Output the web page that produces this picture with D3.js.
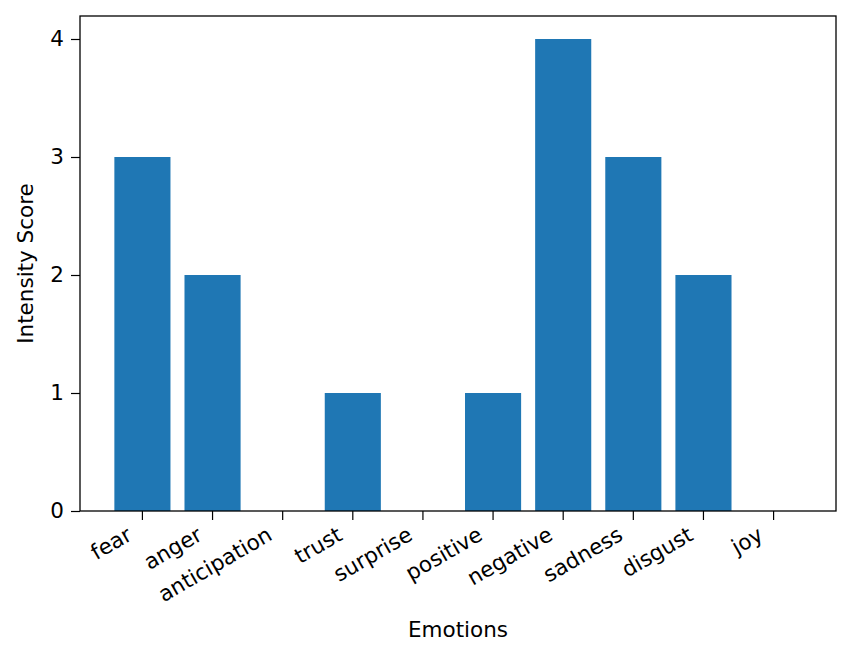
<!DOCTYPE html>
<html>
<head>
<meta charset="utf-8">
<script src="https://cdn.jsdelivr.net/npm/d3@7"></script>
<style>
  body { margin: 0; background: #fff; }
  text { font-family: "DejaVu Sans", sans-serif; fill: #000; }
</style>
</head>
<body>
<div id="chart"></div>
<script>
const width = 851,
    height = 660

const margin = { top: 16, right: 15, bottom: 149, left: 80 }

// data
const emotions = ["fear", "anger", "anticipation", "trust", "surprise",
    "positive", "negative", "sadness", "disgust", "joy"]
const scores = [3, 2, 0, 1, 0, 1, 4, 3, 2, 0]
const yTicks = [0, 1, 2, 3, 4]

const barColor = "#1f77b4"
const fontSize = 21.5

const svg = d3.select("#chart")
    .append("svg")
        .attr("width", width)
        .attr("height", height)

const x = d3.scaleBand()
    .domain(emotions)
    .range([margin.left, width - margin.right])
    .paddingInner(0.2)
    .paddingOuter(0.49)

const y = d3.scaleLinear()
    .domain([0, 4.2])
    .range([height - margin.bottom, height - margin.bottom - 4.2 * 118])

// bars
svg.selectAll("rect.bar")
    .data(emotions.map((e, i) => ({ e, v: scores[i] })))
    .enter()
    .append("rect")
        .attr("class", "bar")
        .attr("x", d => x(d.e))
        .attr("y", d => y(d.v))
        .attr("width", x.bandwidth())
        .attr("height", d => y(0) - y(d.v))
        .attr("fill", barColor)

// frame
svg.append("rect")
    .attr("x", margin.left)
    .attr("y", margin.top)
    .attr("width", width - margin.left - margin.right)
    .attr("height", height - margin.top - margin.bottom)
    .attr("fill", "none")
    .attr("stroke", "#000")
    .attr("stroke-width", 1.3)

// x axis
const xAxis = svg.append("g")
    .attr("transform", `translate(0,${height - margin.bottom})`)
    .call(d3.axisBottom(x).tickSize(9).tickSizeOuter(0))
xAxis.select(".domain").remove()
xAxis.selectAll(".tick line").attr("stroke", "#000").attr("stroke-width", 1.2)
xAxis.selectAll(".tick text")
    .attr("font-size", fontSize)
    .attr("font-family", "DejaVu Sans")
    .attr("text-anchor", "end")
    .attr("y", 0)
    .attr("dy", 0)
    .attr("transform", "translate(-9,28) rotate(-30)")

// y axis
const yAxis = svg.append("g")
    .attr("transform", `translate(${margin.left},0)`)
    .call(d3.axisLeft(y).tickValues(yTicks).tickFormat(d3.format("d")).tickSize(9).tickPadding(7))
yAxis.select(".domain").remove()
yAxis.selectAll(".tick line").attr("stroke", "#000").attr("stroke-width", 1.2)
yAxis.selectAll(".tick text")
    .attr("font-size", fontSize)
    .attr("font-family", "DejaVu Sans")

// axis titles
svg.append("text")
    .attr("x", (margin.left + width - margin.right) / 2)
    .attr("y", 637)
    .attr("text-anchor", "middle")
    .attr("font-size", fontSize)
    .text("Emotions")

svg.append("text")
    .attr("transform", `translate(33,${(margin.top + height - margin.bottom) / 2}) rotate(-90)`)
    .attr("text-anchor", "middle")
    .attr("font-size", fontSize)
    .text("Intensity Score")
</script>
</body>
</html>
